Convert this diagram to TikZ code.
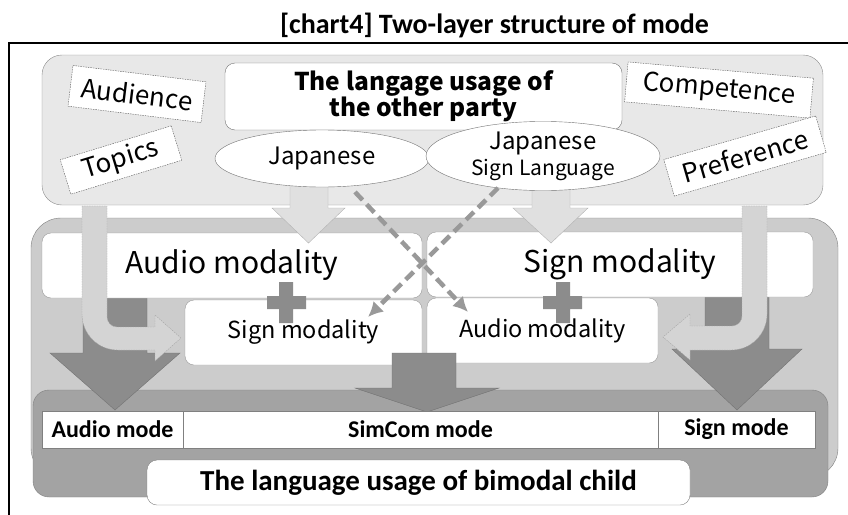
\documentclass[tikz,border=0pt]{standalone}
\usepackage{fontspec}
\setmainfont{Carlito}
\newfontfamily\jpfont{Noto Sans CJK JP}
\usetikzlibrary{shapes.geometric,arrows.meta}

\tikzset{
  cue/.style={draw=black!65, dash pattern=on 1.5pt off 1pt, fill=white, inner sep=0pt,
    font=\jpfont\fontsize{26}{30}\selectfont},
  lang/.style={ellipse, draw=black!55, fill=white, inner sep=0pt,
    font=\jpfont\fontsize{24}{28}\selectfont},
  modality/.style={draw=black!40, fill=white, rounded corners=9pt, inner sep=0pt},
  bigarrow/.style={fill=black!45, draw=black!55},
  softarrow/.style={fill=black!12, draw=black!30},
  bendarrow/.style={fill=black!17, draw=black!35, dash pattern=on 1.5pt off 1pt},
  crossarrow/.style={draw=black!40, line width=4.5pt, dash pattern=on 11pt off 6pt,
    -{Latex[length=15pt,width=15pt]}},
  modecell/.style={draw=black!50, fill=white, inner sep=0pt, minimum height=37pt,
    font=\bfseries\fontsize{24}{28}\selectfont},
}

\begin{document}
\begin{tikzpicture}[x=1pt, y=-1pt]
    \useasboundingbox (0,0) rectangle (848,514);

   % title and frame
    \node[font=\bfseries\fontsize{28}{32}\selectfont] (title) at (494.5,25) {[chart4] Two-layer structure of mode};
    \draw [line width=1.6pt] (9,43) rectangle (860,530);

   % lower layer
    \draw [fill=black!20, draw=black!50, rounded corners=30pt] (31,218) rectangle (838,478);
    \draw [fill=black!36, draw=black!50, rounded corners=16pt] (33,390) rectangle (828,497);

    \draw [bigarrow] (83,298) -- (147,298) -- (147,353) -- (180,353) -- (115,410) -- (50,353) -- (83,353) -- cycle;
    \draw [bigarrow] (705,297) -- (769,297) -- (769,349) -- (802,349) -- (737,410) -- (672,349) -- (705,349) -- cycle;

    \node[modality, minimum width=380pt, minimum height=65pt, font=\jpfont\fontsize{30}{34}\selectfont] (audiobig) at (232,265.5) {Audio modality};
    \node[modality, minimum width=386pt, minimum height=65pt, font=\jpfont\fontsize{30}{34}\selectfont] (signbig) at (620,264.5) {Sign modality};
    \node[modality, minimum width=237pt, minimum height=65pt, font=\jpfont\fontsize{23.5}{27}\selectfont] (signsmall) at (303.5,332.5) {Sign modality};
    \node[modality, minimum width=231pt, minimum height=65pt, font=\jpfont\fontsize{23.5}{27}\selectfont] (audiosmall) at (542.5,330.5) {Audio modality};

    \fill [black!45] (279,282) rectangle (293,323) (267,296) rectangle (306,309);
    \fill [black!45] (556,282) rectangle (570,323) (543,296) rectangle (582,309);

    \draw [bendarrow] (82,206) -- (82,314) .. controls (82,334) and (98,350) .. (118,350) -- (155,350) -- (155,361)
        -- (181,338) -- (155,315) -- (155,327) -- (117,327) .. controls (111.5,327) and (107,322.5) .. (107,317) -- (107,206) -- cycle;
    \draw [bendarrow] (767,206) -- (767,314) .. controls (767,334) and (751,350) .. (731,350) -- (690,350) -- (690,360)
        -- (663,337) -- (690,314) -- (690,326) -- (732,326) .. controls (737.5,326) and (742,321.5) .. (742,316) -- (742,206) -- cycle;

   % upper layer
    \draw [fill=black!9, draw=black!45, rounded corners=20pt] (42,55) rectangle (823,205);

    \draw [softarrow] (290,180) -- (328,180) -- (328,208) -- (345,208) -- (308.5,243) -- (272,208) -- (290,208) -- cycle;
    \draw [softarrow] (532,185) -- (570,185) -- (570,208) -- (588,208) -- (551,243) -- (513,208) -- (532,208) -- cycle;

    \node[draw=black!55, fill=white, rounded corners=10pt, minimum width=397pt, minimum height=67pt, align=center,
        font=\jpfont\bfseries\fontsize{24.5}{26}\selectfont] (other) at (423.5,96.5) {The langage usage of\\the other party};

    \node[lang, minimum width=214pt, minimum height=57pt] (jp) at (322,158.5) {Japanese};
    \node[lang, minimum width=234pt, minimum height=66pt, align=center] (jsl) at (543,156) {Japanese\\[-2pt]{\fontsize{21}{22}\selectfont Sign Language}};

    \node[cue, rotate=-7, minimum width=134pt, minimum height=41pt] (audience) at (137,94) {Audience};
    \node[cue, rotate=17, minimum width=116pt, minimum height=36pt] (topics) at (121,160) {Topics};
    \node[cue, rotate=-5, minimum width=186pt, minimum height=40pt] (competence) at (719,90) {Competence};
    \node[cue, rotate=16, minimum width=158pt, minimum height=38pt] (preference) at (745,156) {Preference};

   % crossing influence
    \coordinate (jpfoot) at (355,192);
    \coordinate (jslfoot) at (498,188);
    \coordinate (audiotip) at (468,312);
    \coordinate (signtip) at (368,317);
    \draw [crossarrow] (jpfoot) -- (audiotip);
    \draw [crossarrow] (jslfoot) -- (signtip);

   % output modes
    \draw [bigarrow] (392,353) -- (456,353) -- (456,388) -- (499,388) -- (427,412) -- (355,388) -- (392,388) -- cycle;

    \node[modecell, minimum width=141pt] (audiomode) at (112.5,429.5) {Audio mode};
    \node[modecell, minimum width=475pt] (simcom) at (420.5,429.5) {SimCom mode};
    \node[modecell, minimum width=157pt] (signmode) at (736.5,429.5) {Sign mode};

    \node[draw=black!50, fill=white, rounded corners=10pt, minimum width=543pt, minimum height=45pt,
        font=\bfseries\fontsize{29}{32}\selectfont] (child) at (418.5,482.5) {The language usage of bimodal child};
\end{tikzpicture}
\end{document}
